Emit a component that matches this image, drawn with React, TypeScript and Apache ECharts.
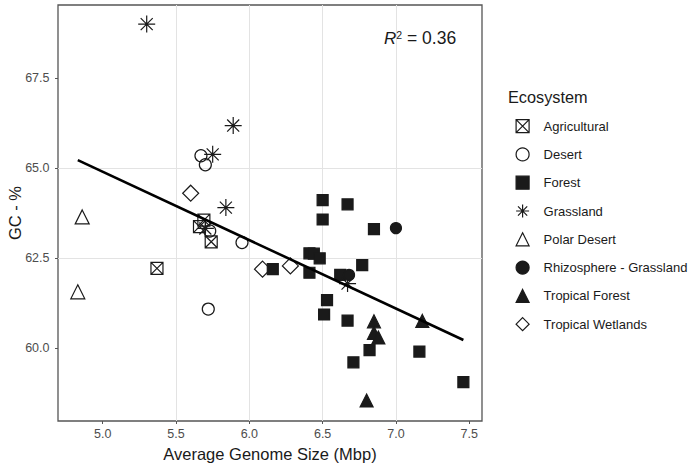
import React, { useEffect, useRef } from 'react';
import * as echarts from 'echarts';

const ecosystems = [
  'Agricultural',
  'Desert',
  'Forest',
  'Grassland',
  'Polar Desert',
  'Rhizosphere - Grassland',
  'Tropical Forest',
  'Tropical Wetlands',
];

// [average genome size (Mbp), GC %]
const agricultural = [[5.37, 62.22], [5.66, 63.38], [5.69, 63.56], [5.74, 62.96]];
const desert = [[5.67, 65.35], [5.70, 65.10], [5.73, 63.26], [5.95, 62.94], [5.72, 61.09]];
const forest = [
  [6.16, 62.2], [6.5, 64.12], [6.67, 64.0], [6.5, 63.58], [6.85, 63.31], [6.41, 62.64],
  [6.44, 62.63], [6.48, 62.5], [6.41, 62.1], [6.77, 62.31], [6.62, 62.04], [6.53, 61.34],
  [6.51, 60.94], [6.67, 60.77], [6.82, 59.95], [7.16, 59.91], [6.71, 59.61], [7.46, 59.06],
];
const grassland = [[5.30, 69.01], [5.89, 66.19], [5.75, 65.39], [5.84, 63.91], [5.70, 63.33], [6.67, 61.8]];
const polarDesert = [[4.86, 63.65], [4.83, 61.57]];
const rhizosphere = [[7.0, 63.34], [6.68, 62.04]];
const tropicalForest = [[6.85, 60.75], [6.85, 60.43], [6.88, 60.3], [7.18, 60.76], [6.80, 58.55]];
const tropicalWetlands = [[5.60, 64.31], [6.09, 62.2], [6.28, 62.29]];

const fitLine = [[4.83, 65.23], [7.46, 60.23]];
const rSquared = '0.36';

const xTicks = [5.0, 5.5, 6.0, 6.5, 7.0, 7.5];
const yTicks = [60.0, 62.5, 65.0, 67.5];

const FONT = '"Liberation Sans", Arial, Helvetica, sans-serif';
const INK = '#1a1a1a';
const HOLLOW = 'rgba(0,0,0,0)';
const ASTERISK = 'path://M5,0L5,10M0,5L10,5M1.46,1.46L8.54,8.54M8.54,1.46L1.46,8.54';
const SQCROSS = 'path://M0,0L10,0L10,10L0,10ZM0,0L10,10M10,0L0,10';

const seriesData = [agricultural, desert, forest, grassland, polarDesert, rhizosphere, tropicalForest, tropicalWetlands];
const seriesSymbols = [SQCROSS, 'circle', 'rect', ASTERISK, 'triangle', 'circle', 'triangle', 'diamond'];
const seriesSizes = [12, 12, 11, 17, 14, 11, 13, 16];
const seriesFills = [HOLLOW, HOLLOW, INK, INK, HOLLOW, INK, INK, HOLLOW];

export default function App() {
  const ref = useRef<HTMLDivElement>(null);

  useEffect(() => {
    if (!ref.current) return;
    const chart = echarts.init(ref.current, undefined, { renderer: 'svg' });

    const scatter = ecosystems.map((name, i) => ({
      type: 'scatter',
      name,
      data: seriesData[i],
      symbol: seriesSymbols[i],
      symbolSize: seriesSizes[i],
      itemStyle: {
        color: seriesFills[i],
        borderColor: INK,
        borderWidth: 1.2,
        opacity: 1,
      },
      z: 3,
    }));

    chart.setOption({
      animation: false,
      backgroundColor: '#ffffff',
      textStyle: { fontFamily: FONT },
      grid: {
        left: 58,
        right: 211,
        top: 5,
        bottom: 45,
        outerBoundsMode: 'none',
        containLabel: false,
        show: true,
        borderColor: '#555555',
        borderWidth: 1.3,
        backgroundColor: 'transparent',
      },
      xAxis: {
        type: 'value',
        min: 4.695,
        max: 7.587,
        minInterval: 0.5,
        maxInterval: 0.5,
        splitNumber: 5,
        name: 'Average Genome Size (Mbp)',
        nameLocation: 'middle',
        nameGap: 24,
        nameMoveOverlap: false,
        nameTextStyle: { fontSize: 16.5, color: INK, fontFamily: FONT },
        axisLine: { show: false },
        axisTick: { show: true, length: 3, lineStyle: { color: '#555555' }, customValues: xTicks },
        axisLabel: {
          customValues: xTicks,
          formatter: (v: number) => v.toFixed(1),
          fontSize: 12.5,
          color: '#4d4d4d',
          margin: 6,
          fontFamily: FONT,
        },
        splitLine: { show: true, showMinLine: false, showMaxLine: false, lineStyle: { color: '#e3e3e3', width: 1 } },
      },
      yAxis: {
        type: 'value',
        min: 57.98,
        max: 69.54,
        minInterval: 2.5,
        maxInterval: 2.5,
        splitNumber: 5,
        name: 'GC - %',
        nameLocation: 'middle',
        nameGap: 35,
        nameMoveOverlap: false,
        nameTextStyle: { fontSize: 16.5, color: INK, fontFamily: FONT },
        axisLine: { show: false },
        axisTick: { show: true, length: 3, lineStyle: { color: '#555555' }, customValues: yTicks },
        axisLabel: {
          customValues: yTicks,
          formatter: (v: number) => v.toFixed(1),
          fontSize: 12.5,
          color: '#4d4d4d',
          margin: 8.5,
          fontFamily: FONT,
        },
        splitLine: { show: true, showMinLine: false, showMaxLine: false, lineStyle: { color: '#e3e3e3', width: 1 } },
      },
      legend: {
        orient: 'vertical',
        left: 515.5,
        top: 119,
        padding: 0,
        itemWidth: 13,
        itemHeight: 13,
        itemGap: 14.1,
        selectedMode: false,
        data: ecosystems,
        itemStyle: { borderWidth: 1.2 },
        textStyle: { fontSize: 13, color: INK, fontFamily: FONT, padding: [0, 0, 0, 9.5] },
      },
      graphic: [
        {
          type: 'text',
          x: 508,
          y: 97,
          style: {
            text: 'Ecosystem',
            fontSize: 16.3,
            fontFamily: FONT,
            fill: INK,
            verticalAlign: 'middle',
          },
        },
        {
          type: 'text',
          x: 384,
          y: 38,
          z: 10,
          style: {
            text: '{r|R}{s|2}{n| = ' + rSquared + '}',
            verticalAlign: 'middle',
            fill: INK,
            rich: {
              r: { fontStyle: 'italic', fontSize: 17, fontFamily: FONT, fill: INK },
              s: { fontSize: 10.5, fontFamily: FONT, fill: INK, verticalAlign: 'top' },
              n: { fontSize: 17.5, fontFamily: FONT, fill: INK },
            },
          },
        },
      ],
      series: [
        ...scatter,
        {
          type: 'line',
          name: 'fit',
          data: fitLine,
          symbol: 'none',
          silent: true,
          lineStyle: { color: '#000000', width: 2.6 },
          z: 5,
        },
      ],
    });

    return () => chart.dispose();
  }, []);

  return (
    <div
      ref={ref}
      style={{ position: 'absolute', left: 0, top: 0, width: 693, height: 466, background: '#fff' }}
    />
  );
}
